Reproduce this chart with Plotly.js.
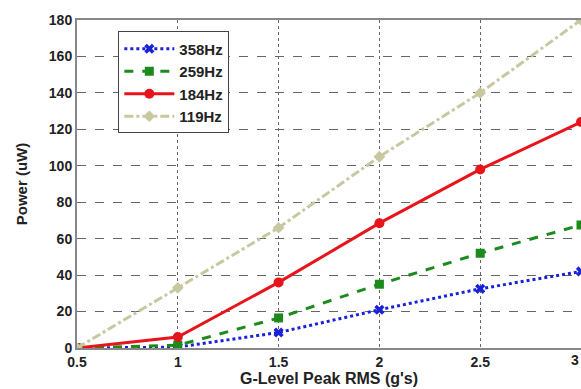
<!DOCTYPE html>
<html><head><meta charset="utf-8">
<script src="https://cdn.plot.ly/plotly-3.0.1.min.js"></script>
<style>html,body{margin:0;padding:0;background:#fff}#plot{width:581px;height:389px}</style>
</head><body><div id="plot"></div>
<script>
const gLevel = [0.5, 1, 1.5, 2, 2.5, 3];
const p358 = [0, 0.5, 8.5, 21, 32.5, 42];
const p259 = [0, 1.5, 16.5, 35, 52, 67.5];
const p184 = [0, 6, 36, 68.5, 98, 124];
const p119 = [0, 33, 66, 105, 140, 180];
const names = ['358Hz', '259Hz', '184Hz', '119Hz'];
const xTicks = [0.5, 1, 1.5, 2, 2.5, 3];
const xTickText = ['0.5', '1', '1.5', '2', '2.5', '3'];
const yTicks = [0, 20, 40, 60, 80, 100, 120, 140, 160, 180];

const traces = [
  {x: gLevel, y: p358, name: names[0], mode: 'lines+markers',
   line: {color: '#1a22d8', width: 3, dash: 'dot'},
   marker: {symbol: 'x', size: 9, color: '#1a22d8'}},
  {x: gLevel, y: p259, name: names[1], mode: 'lines+markers',
   line: {color: '#1c8a1c', width: 3, dash: 'dash'},
   marker: {symbol: 'square', size: 9, color: '#1c8a1c'}},
  {x: gLevel, y: p184, name: names[2], mode: 'lines+markers',
   line: {color: '#e8141c', width: 3, dash: 'solid'},
   marker: {symbol: 'circle', size: 10, color: '#e8141c'}},
  {x: gLevel, y: p119, name: names[3], mode: 'lines+markers',
   line: {color: '#c8c8a0', width: 3, dash: 'dashdot'},
   marker: {symbol: 'diamond', size: 9, color: '#c8c8a0'}}
];

const tickFont = {family: 'Liberation Sans, Arial, sans-serif', size: 14, weight: 'bold', color: '#222'};

const layout = {
  width: 581, height: 389,
  margin: {l: 77, r: 0, t: 20, b: 41},
  paper_bgcolor: '#fff', plot_bgcolor: '#fff',
  font: {family: 'Liberation Sans, Arial, sans-serif', size: 14, color: '#222'},
  showlegend: true,
  legend: {x: 0.082, y: 0.965, xanchor: 'left', yanchor: 'top',
    bordercolor: '#444', borderwidth: 1, bgcolor: '#fff',
    font: {size: 15, color: '#222', family: 'Liberation Sans, Arial, sans-serif', weight: 'bold'},
    tracegroupgap: 0, itemwidth: 50},
  xaxis: {range: [0.5, 3], tickvals: xTicks.slice(0, 5), ticktext: xTickText.slice(0, 5),
    showgrid: true, gridcolor: '#666', griddash: 'dot', gridwidth: 1,
    showline: true, linecolor: '#888', linewidth: 2, mirror: true,
    ticks: '', zeroline: false, automargin: false,
    tickfont: tickFont,
    title: {text: "G-Level Peak RMS (g's)", standoff: 4,
      font: {size: 16, weight: 'bold', color: '#222'}}},
  yaxis: {range: [0, 180], tickvals: yTicks,
    showgrid: true, gridcolor: '#666', griddash: 'dash', gridwidth: 1,
    showline: true, linecolor: '#888', linewidth: 2, mirror: true,
    ticks: '', zeroline: false, automargin: false,
    tickfont: tickFont,
    title: {text: 'Power (uW)', standoff: 18,
      font: {size: 15, weight: 'bold', color: '#222'}}},
  annotations: [{x: xTicks[5], y: 0, xref: 'x', yref: 'y', text: xTickText[5],
    showarrow: false, xanchor: 'right', yanchor: 'top', yshift: -2, xshift: 0, font: tickFont}]
};
Plotly.newPlot('plot', traces, layout, {displayModeBar: false, staticPlot: true});
</script></body></html>
